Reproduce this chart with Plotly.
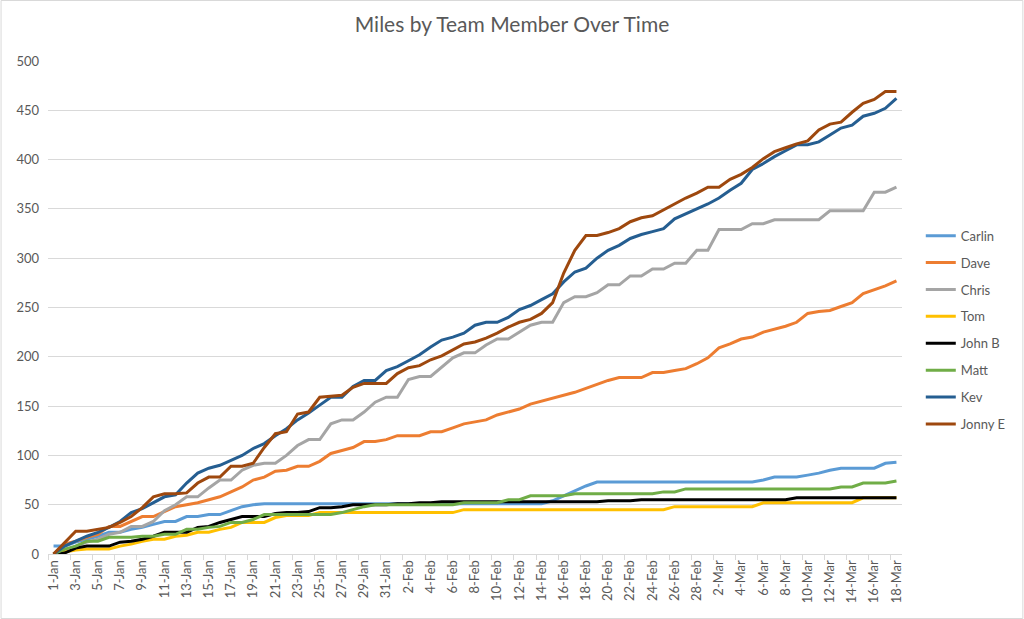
import datetime as dt
import plotly.graph_objects as go

# Categories: daily dates 1-Jan .. 18-Mar
start = dt.date(2023, 1, 1)
dates = [start + dt.timedelta(days=i) for i in range(77)]
categories = [f"{d.day}-{d.strftime('%b')}" for d in dates]

carlin = [8, 8, 12, 15, 18, 22, 22, 25, 27, 30, 33, 33, 38, 38, 40, 40, 44, 48, 50, 51,
          51, 51, 51, 51, 51, 51, 51, 51, 51, 51, 51, 51, 51, 51, 51, 51, 51, 51, 51, 51,
          51, 51, 51, 51, 51, 54, 59, 64, 69, 73, 73, 73, 73, 73, 73, 73, 73, 73, 73, 73,
          73, 73, 73, 73, 75, 78, 78, 78, 80, 82, 85, 87, 87, 87, 87, 92, 93]
dave = [0, 10, 13, 17, 20, 28, 28, 33, 38, 38, 43, 48, 50, 52, 55, 58, 63, 68, 75, 78,
        84, 85, 89, 89, 94, 102, 105, 108, 114, 114, 116, 120, 120, 120, 124, 124, 128, 132, 134, 136,
        141, 144, 147, 152, 155, 158, 161, 164, 168, 172, 176, 179, 179, 179, 184, 184, 186, 188, 193, 199,
        209, 213, 218, 220, 225, 228, 231, 235, 244, 246, 247, 251, 255, 264, 268, 272, 277]
chris = [0, 3, 8, 12, 15, 20, 22, 28, 28, 33, 44, 50, 58, 58, 67, 75, 75, 85, 90, 92,
         92, 100, 110, 116, 116, 132, 136, 136, 144, 154, 159, 159, 177, 180, 180, 190, 199, 204, 204, 212,
         218, 218, 225, 232, 235, 235, 255, 261, 261, 265, 273, 273, 282, 282, 289, 289, 295, 295, 308, 308,
         329, 329, 329, 335, 335, 339, 339, 339, 339, 339, 348, 348, 348, 348, 367, 367, 372]
tom = [0, 2, 4, 5, 5, 5, 8, 10, 13, 15, 15, 18, 19, 22, 22, 25, 27, 32, 32, 32,
       37, 39, 39, 39, 42, 42, 42, 42, 42, 42, 42, 42, 42, 42, 42, 42, 42, 45, 45, 45,
       45, 45, 45, 45, 45, 45, 45, 45, 45, 45, 45, 45, 45, 45, 45, 45, 48, 48, 48, 48,
       48, 48, 48, 48, 52, 52, 52, 52, 52, 52, 52, 52, 52, 57, 57, 57, 57]
john_b = [0, 1, 6, 8, 8, 8, 12, 13, 15, 18, 22, 22, 22, 27, 28, 32, 35, 38, 38, 38,
          41, 42, 42, 43, 47, 47, 48, 50, 50, 50, 50, 51, 51, 52, 52, 53, 53, 53, 53, 53,
          53, 53, 53, 53, 53, 53, 53, 53, 53, 53, 54, 54, 54, 55, 55, 55, 55, 55, 55, 55,
          55, 55, 55, 55, 55, 55, 55, 57, 57, 57, 57, 57, 57, 57, 57, 57, 57]
matt = [0, 5, 8, 13, 13, 17, 17, 17, 18, 18, 20, 20, 25, 25, 27, 28, 32, 32, 35, 40,
        40, 40, 40, 40, 40, 40, 42, 45, 48, 50, 50, 50, 50, 50, 50, 50, 50, 52, 52, 52,
        52, 55, 55, 59, 59, 59, 59, 61, 61, 61, 61, 61, 61, 61, 61, 63, 63, 66, 66, 66,
        66, 66, 66, 66, 66, 66, 66, 66, 66, 66, 66, 68, 68, 72, 72, 72, 74]
kev = [0, 8, 13, 18, 22, 27, 33, 42, 46, 52, 58, 60, 72, 82, 87, 90, 95, 100, 107, 112,
       120, 127, 136, 143, 151, 159, 159, 170, 176, 176, 186, 190, 196, 202, 210, 217, 220, 224, 232, 235,
       235, 240, 248, 252, 258, 264, 276, 286, 290, 300, 308, 313, 320, 324, 327, 330, 340, 345, 350, 355,
       361, 369, 376, 390, 396, 403, 409, 415, 415, 418, 425, 432, 435, 444, 447, 452, 462]
jonny_e = [0, 12, 23, 23, 25, 27, 32, 38, 47, 58, 61, 61, 62, 72, 78, 78, 89, 89, 92, 108,
           122, 124, 142, 144, 159, 160, 161, 169, 173, 173, 173, 183, 189, 191, 197, 201, 207, 213, 215, 219,
           224, 230, 235, 238, 244, 255, 285, 308, 323, 323, 326, 330, 337, 341, 343, 349, 355, 361, 366, 372,
           372, 380, 385, 392, 401, 408, 412, 416, 419, 430, 436, 438, 448, 457, 461, 469, 469]

series_names = ["Carlin", "Dave", "Chris", "Tom", "John B", "Matt", "Kev", "Jonny E"]
series_values = [carlin, dave, chris, tom, john_b, matt, kev, jonny_e]
series_colors = ["#5B9BD5", "#ED7D31", "#A5A5A5", "#FFC000", "#000000", "#70AD47", "#255E91", "#9E480E"]

y_ticks = [0, 50, 100, 150, 200, 250, 300, 350, 400, 450, 500]

FONT = "Lato"
GRAY = "#595959"

fig = go.Figure()
for name, vals, col in zip(series_names, series_values, series_colors):
    fig.add_trace(go.Scatter(
        x=categories, y=vals, name=name, mode="lines",
        line=dict(color=col, width=3), legendgroup=name,
    ))

fig.update_layout(
    width=1024, height=619,
    margin=dict(l=47.5, r=121.5, t=61, b=65),
    paper_bgcolor="white", plot_bgcolor="white",
    font=dict(family=FONT, color=GRAY, size=13),
    title=dict(text="Miles by Team Member Over Time", x=0.5, xanchor="center",
               y=1 - 25 / 619, yanchor="middle", font=dict(family=FONT, size=21, color=GRAY)),
    legend=dict(x=1.022, xanchor="left", y=0.454, yanchor="middle",
                font=dict(family=FONT, size=13, color=GRAY),
                tracegroupgap=7, itemwidth=30, bgcolor="rgba(0,0,0,0)"),
    showlegend=True,
)
fig.update_xaxes(
    type="category", range=[-0.5, 76.5], tickmode="linear", tick0=0, dtick=2,
    tickson="boundaries", ticks="outside", ticklen=5, tickcolor="#D9D9D9",
    tickangle=-90, showgrid=False, showline=True, linecolor="#D9D9D9", linewidth=1,
    tickfont=dict(family=FONT, size=13, color=GRAY), zeroline=False, automargin=False,
)
fig.update_yaxes(
    range=[0, 500], tickmode="array", tickvals=y_ticks, showgrid=True,
    gridcolor="#D9D9D9", gridwidth=1, zeroline=False, showline=False, ticks="",
    ticklabelstandoff=8, tickfont=dict(family=FONT, size=13, color=GRAY), automargin=False,
)
# chart outer border
fig.add_shape(type="rect", xref="paper", yref="paper",
              x0=-47 / 855, x1=(1023.5 - 47.5) / 855, y0=(554 - 618.5) / 493, y1=(554 - 0.5) / 493,
              line=dict(color="#D9D9D9", width=1), fillcolor="rgba(0,0,0,0)", layer="below")

fig.write_html("out.html", config={"displayModeBar": False},
               post_script="document.body.style.margin='0';document.body.style.overflow='hidden';")
